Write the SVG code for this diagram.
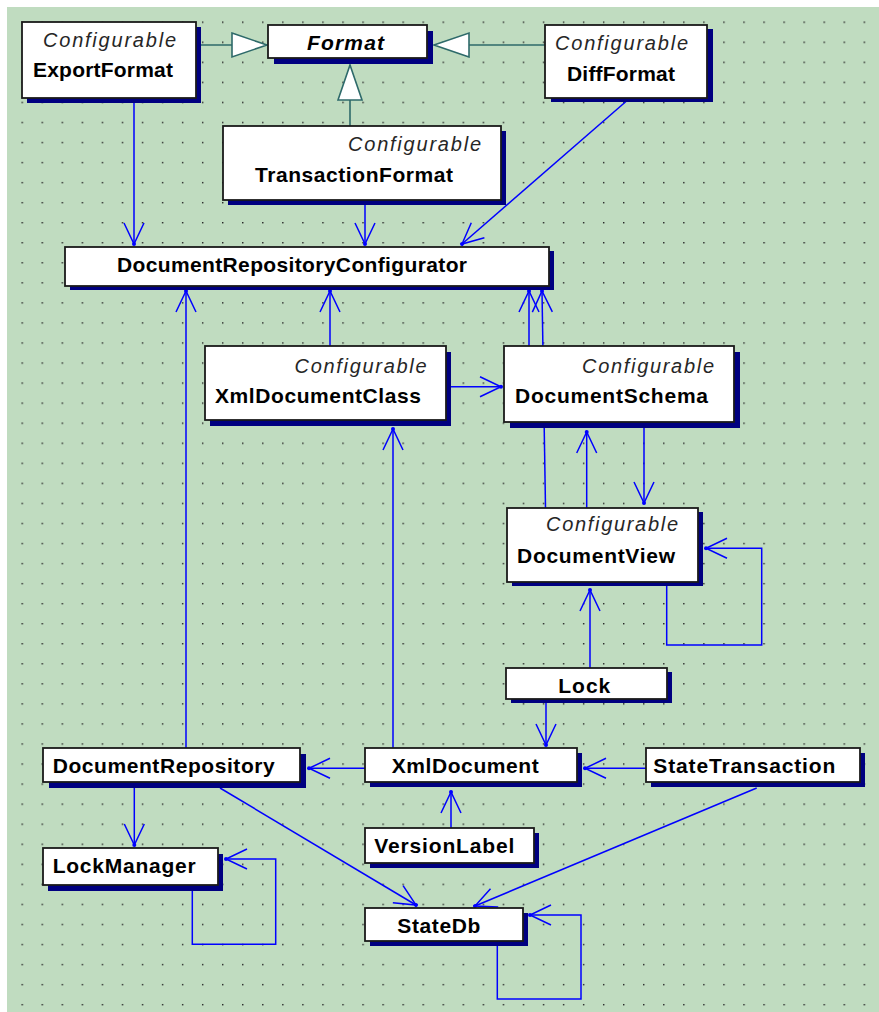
<svg xmlns="http://www.w3.org/2000/svg" width="879" height="1012" viewBox="0 0 879 1012">
  <defs>
    <style>
      .shadow{fill:#000080}
      .box{fill:#ffffff;stroke:#1a1a1a;stroke-width:1.8}
      .name{font-family:"Liberation Sans",Arial,sans-serif;font-weight:bold;font-size:21px;fill:#000}
      .abstract{font-style:italic}
      .stereo{font-family:"Liberation Sans",Arial,sans-serif;font-style:italic;font-size:20px;fill:#262626}
      .dep{fill:none;stroke:#0000ff;stroke-width:1.5;marker-end:url(#open)}
      .gen{fill:none;stroke:#2e6a6a;stroke-width:1.6;marker-end:url(#tri)}
    </style>
    <pattern id="grid" x="21.5" y="21.5" width="20.05" height="20.05" patternUnits="userSpaceOnUse">
      <rect width="1.4" height="1.4" fill="#222"/>
    </pattern>
    <!-- open dependency arrowhead with a dot on the tip -->
    <marker id="open" viewBox="-25 -12 28 24" refX="0" refY="0" markerWidth="28" markerHeight="24" markerUnits="userSpaceOnUse" orient="auto">
      <path d="M-21,-10 L0,0 L-21,10" fill="none" stroke="#0000ff" stroke-width="1.5"/>
      <circle r="2" fill="#0000ff"/>
    </marker>
    <!-- hollow generalization triangle -->
    <marker id="tri" viewBox="-37 -14 40 28" refX="0" refY="0" markerWidth="40" markerHeight="28" markerUnits="userSpaceOnUse" orient="auto">
      <path d="M-35,-12 L0,0 L-35,12 Z" fill="#ffffff" stroke="#2e6a6a" stroke-width="1.6"/>
    </marker>
  </defs>

  <!-- canvas -->
  <rect width="879" height="1012" fill="#ffffff"/>
  <rect x="7" y="7" width="872" height="1005" fill="#c0dcc0"/>
  <rect x="7" y="7" width="872" height="1005" fill="url(#grid)"/>

  <!-- connectors -->
  <g id="connectors">
    <path class="gen" d="M196,45 L267,45"/>
    <path class="gen" d="M545,45 L434,45"/>
    <path class="gen" d="M350,126 L350,65"/>

    <path class="dep" d="M134,98 L134,244"/>
    <path class="dep" d="M365,200 L365,244"/>
    <path class="dep" d="M630,98 L462,244"/>
    <path class="dep" d="M186,748 L186,291"/>
    <path class="dep" d="M330,346 L330,291"/>
    <path class="dep" d="M529,346 L529,291"/>
    <path class="dep" d="M545.5,508 L542,291"/>
    <path class="dep" d="M446,386.7 L501,386.7"/>
    <path class="dep" d="M393,748 L393,429"/>
    <path class="dep" d="M586.7,508 L586.7,432"/>
    <path class="dep" d="M644,422 L644,503"/>
    <path class="dep" d="M666.7,582 L666.7,645 L761.7,645 L761.7,548.3 L706,548.3"/>
    <path class="dep" d="M590,668 L590,590"/>
    <path class="dep" d="M546,699 L546,745"/>
    <path class="dep" d="M365,768.3 L309,768.3"/>
    <path class="dep" d="M646,768.3 L585,768.3"/>
    <path class="dep" d="M451,828 L451,792"/>
    <path class="dep" d="M134.3,782 L134.3,845"/>
    <path class="dep" d="M192.3,885 L192.3,944.3 L275.7,944.3 L275.7,859 L226,859"/>
    <path class="dep" d="M220,788 L416,905"/>
    <path class="dep" d="M756.7,788 L475,906"/>
    <path class="dep" d="M497.3,941 L497.3,999 L581,999 L581,915 L530,915"/>
  </g>

  <!-- classes -->
  <g id="ExportFormat">
    <rect class="shadow" x="27" y="27" width="174" height="76"/>
    <rect class="box" x="22" y="22" width="174" height="76"/>
    <text class="stereo" x="43" y="47" textLength="133" lengthAdjust="spacing">Configurable</text>
    <text class="name" x="33" y="77" textLength="140" lengthAdjust="spacing">ExportFormat</text>
  </g>

  <g id="Format">
    <rect class="shadow" x="274" y="31" width="159" height="33"/>
    <rect class="box" x="268" y="25" width="159" height="33"/>
    <text class="name abstract" x="307" y="50" textLength="77" lengthAdjust="spacing">Format</text>
  </g>

  <g id="DiffFormat">
    <rect class="shadow" x="551" y="29" width="162" height="73"/>
    <rect class="box" x="545" y="25" width="162" height="73"/>
    <text class="stereo" x="555" y="50" textLength="133" lengthAdjust="spacing">Configurable</text>
    <text class="name" x="567" y="81" textLength="108" lengthAdjust="spacing">DiffFormat</text>
  </g>

  <g id="TransactionFormat">
    <rect class="shadow" x="228" y="131" width="278" height="74"/>
    <rect class="box" x="223" y="126" width="278" height="74"/>
    <text class="stereo" x="348" y="151" textLength="133" lengthAdjust="spacing">Configurable</text>
    <text class="name" x="255" y="181.7" textLength="198" lengthAdjust="spacing">TransactionFormat</text>
  </g>

  <g id="DocumentRepositoryConfigurator">
    <rect class="shadow" x="70" y="251" width="484" height="39"/>
    <rect class="box" x="65" y="247" width="484" height="39"/>
    <text class="name" x="117" y="271.7" textLength="350" lengthAdjust="spacing">DocumentRepositoryConfigurator</text>
  </g>

  <g id="XmlDocumentClass">
    <rect class="shadow" x="210" y="352" width="241" height="74"/>
    <rect class="box" x="205" y="346" width="241" height="74"/>
    <text class="stereo" x="294.6" y="372.7" textLength="132" lengthAdjust="spacing">Configurable</text>
    <text class="name" x="215" y="403.3" textLength="206" lengthAdjust="spacing">XmlDocumentClass</text>
  </g>

  <g id="DocumentSchema">
    <rect class="shadow" x="510" y="352" width="230" height="76"/>
    <rect class="box" x="504" y="346" width="230" height="76"/>
    <text class="stereo" x="582" y="372.7" textLength="132" lengthAdjust="spacing">Configurable</text>
    <text class="name" x="515" y="403.3" textLength="193" lengthAdjust="spacing">DocumentSchema</text>
  </g>

  <g id="DocumentView">
    <rect class="shadow" x="512" y="512" width="191" height="74"/>
    <rect class="box" x="507" y="508" width="191" height="74"/>
    <text class="stereo" x="546" y="531" textLength="132" lengthAdjust="spacing">Configurable</text>
    <text class="name" x="517" y="563.3" textLength="158" lengthAdjust="spacing">DocumentView</text>
  </g>

  <g id="Lock">
    <rect class="shadow" x="511" y="672" width="161" height="31"/>
    <rect class="box" x="506" y="668" width="161" height="31"/>
    <text class="name" x="558.3" y="693.3" textLength="52" lengthAdjust="spacing">Lock</text>
  </g>

  <g id="DocumentRepository">
    <rect class="shadow" x="49" y="754" width="257" height="34"/>
    <rect class="box" x="43" y="748" width="257" height="34"/>
    <text class="name" x="52.7" y="772.7" textLength="222" lengthAdjust="spacing">DocumentRepository</text>
  </g>

  <g id="XmlDocument">
    <rect class="shadow" x="370" y="753" width="212" height="34"/>
    <rect class="box" x="365" y="748" width="212" height="34"/>
    <text class="name" x="391.7" y="772.7" textLength="147" lengthAdjust="spacing">XmlDocument</text>
  </g>

  <g id="StateTransaction">
    <rect class="shadow" x="651" y="753" width="214" height="34"/>
    <rect class="box" x="646" y="748" width="214" height="34"/>
    <text class="name" x="653.3" y="772.7" textLength="182" lengthAdjust="spacing">StateTransaction</text>
  </g>

  <g id="VersionLabel">
    <rect class="shadow" x="370" y="833" width="169" height="35"/>
    <rect class="box" x="365" y="828" width="169" height="35"/>
    <text class="name" x="374.3" y="852.7" textLength="140" lengthAdjust="spacing">VersionLabel</text>
  </g>

  <g id="LockManager">
    <rect class="shadow" x="48" y="854" width="175" height="37"/>
    <rect class="box" x="43" y="848" width="175" height="37"/>
    <text class="name" x="52.7" y="873.3" textLength="143" lengthAdjust="spacing">LockManager</text>
  </g>

  <g id="StateDb">
    <rect class="shadow" x="370" y="913" width="158" height="33"/>
    <rect class="box" x="365" y="908" width="158" height="33"/>
    <text class="name" x="397.3" y="932.7" textLength="83" lengthAdjust="spacing">StateDb</text>
  </g>
</svg>
